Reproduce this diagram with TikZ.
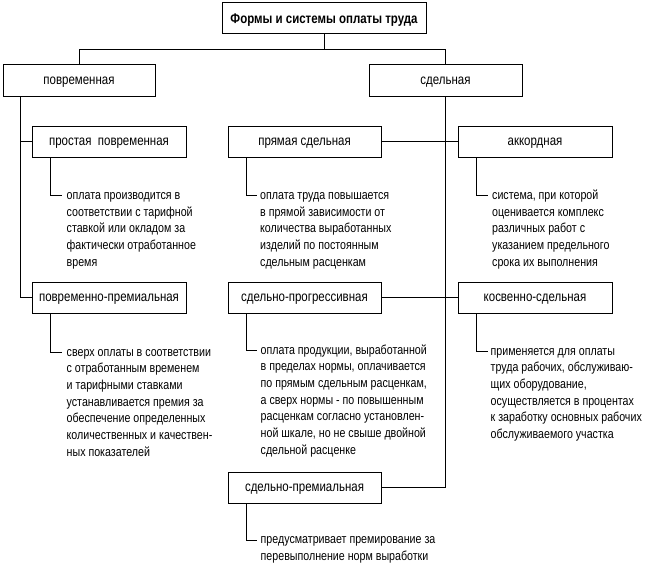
\documentclass[tikz,border=0pt]{standalone}
\usepackage{fontspec}
\setmainfont{Liberation Sans}[FakeStretch=0.82]
\newcommand\ml[1]{\begin{tabular}[t]{@{}l@{}}#1\end{tabular}}
\tikzset{
  box/.style={draw, line width=1pt, inner sep=0pt, minimum height=31pt, text height=7.3pt, text depth=0pt, font=\fontsize{14}{16}\selectfont},
  conn/.style={line width=1pt},
  desc/.style={anchor=base west, inner sep=0pt, font=\fontsize{13}{16.7}\selectfont},
}
\begin{document}
\begin{tikzpicture}[x=1pt,y=-1pt]
\useasboundingbox (0,0) rectangle (648,569);
% top
\node[box, minimum width=204pt, text height=10pt, font=\bfseries\fontsize{14}{16}\selectfont] (title) at (324,18.5) {Формы и системы оплаты труда};
\node[box, minimum width=152pt, minimum height=32pt] (povr) at (79,81) {повременная};
\node[box, minimum width=153pt, minimum height=32pt] (sdel) at (445.5,81) {сдельная};
\coordinate (j) at (324,50);
\draw[conn] (title.south) -- (j) -| (povr.north);
\draw[conn] (j) -| (sdel.north);
% left column
\node[box, minimum width=154pt] (prost) at (109,142) {простая\ \ повременная};
\node[box, minimum width=154pt] (pprem) at (109,298) {повременно-премиальная};
\draw[conn] ([xshift=18pt]povr.south west) |- (prost.west);
\draw[conn] ([xshift=18pt]povr.south west) |- (pprem.west);
% middle column
\node[box, minimum width=153pt] (pryam) at (304.5,142) {прямая сдельная};
\node[box, minimum width=153pt] (sprog) at (304.5,298) {сдельно-прогрессивная};
\node[box, minimum width=153pt] (sprem) at (304.5,487.5) {сдельно-премиальная};
% right column
\node[box, minimum width=154pt] (akk) at (535,142) {аккордная};
\node[box, minimum width=154pt] (kosv) at (535,298) {косвенно-сдельная};
\draw[conn] (sdel.south) |- (sprem.east);
\draw[conn] (pryam.east) -- (akk.west);
\draw[conn] (sprog.east) -- (kosv.west);
% descriptions
\coordinate (cprost) at (62,196);
\coordinate (cpprem) at (62,352.7);
\coordinate (cpryam) at (257,196);
\coordinate (csprog) at (257,350.7);
\coordinate (csprem) at (257,540);
\coordinate (cakk) at (488,196);
\coordinate (ckosv) at (488,351.7);
\draw[conn] ([xshift=19pt]prost.south west) |- (cprost);
\draw[conn] ([xshift=19pt]pprem.south west) |- (cpprem);
\draw[conn] ([xshift=19pt]pryam.south west) |- (cpryam);
\draw[conn] ([xshift=19pt]sprog.south west) |- (csprog);
\draw[conn] ([xshift=19pt]sprem.south west) |- (csprem);
\draw[conn] ([xshift=19pt]akk.south west) |- (cakk);
\draw[conn] ([xshift=19pt]kosv.south west) |- (ckosv);
\node[desc] (tprost) at (66.5,199.5) {\ml{оплата производится в\\соответствии с тарифной\\ставкой или окладом за\\фактически отработанное\\время}};
\node[desc] (tpprem) at (66.5,356.2) {\ml{сверх оплаты в соответствии\\с отработанным временем\\и тарифными ставками\\устанавливается премия за\\обеспечение определенных\\количественных и качествен-\\ных показателей}};
\node[desc] (tpryam) at (260,199.5) {\ml{оплата труда повышается\\в прямой зависимости от\\количества выработанных\\изделий по постоянным\\сдельным расценкам}};
\node[desc] (tsprog) at (260.5,354.2) {\ml{оплата продукции, выработанной\\в пределах нормы, оплачивается\\по прямым сдельным расценкам,\\а сверх нормы - по повышенным\\расценкам согласно установлен-\\ной шкале, но не свыше двойной\\сдельной расценке}};
\node[desc] (tsprem) at (260.5,543.5) {\ml{предусматривает премирование за\\перевыполнение норм выработки}};
\node[desc] (takk) at (492,199.5) {\ml{система, при которой\\оценивается комплекс\\различных работ с\\указанием предельного\\срока их выполнения}};
\node[desc] (tkosv) at (490.5,355.2) {\ml{применяется для оплаты\\труда рабочих, обслуживаю-\\щих оборудование,\\осуществляется в процентах\\к заработку основных рабочих\\обслуживаемого участка}};
\end{tikzpicture}
\end{document}
